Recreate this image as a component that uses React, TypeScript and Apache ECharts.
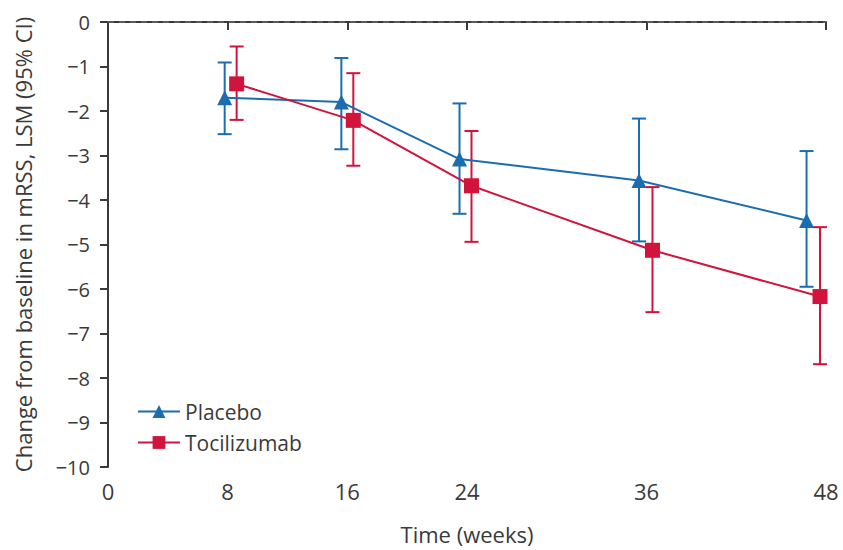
import React, { useEffect, useRef } from "react";
import * as echarts from "echarts";

const tickWeeks = [0, 8, 16, 24, 36, 48];
const placeboX = [7.8, 15.6, 23.5, 35.5, 46.7];
const placeboY = [-1.7, -1.8, -3.08, -3.56, -4.46];
const placeboLow = [-2.52, -2.86, -4.31, -4.93, -5.95];
const placeboHigh = [-0.91, -0.81, -1.83, -2.17, -2.9];
const tociX = [8.6, 16.4, 24.3, 36.4, 47.6];
const tociY = [-1.39, -2.21, -3.68, -5.13, -6.17];
const tociLow = [-2.2, -3.23, -4.94, -6.52, -7.69];
const tociHigh = [-0.55, -1.15, -2.45, -3.71, -4.61];

const BLUE = "#1c6db0";
const RED = "#d0143c";
const FONT = "'Open Sans', 'Noto Sans', sans-serif";
const TXT = "#3a3a3a";

function errorSeries(name: string, xs: number[], lows: number[], highs: number[], color: string) {
  return {
    type: "custom",
    name: name + "-ci",
    silent: true,
    z: 1,
    data: xs.map((x, i) => [x, lows[i], highs[i]]),
    encode: { x: 0, y: [1, 2] },
    renderItem: (params: any, api: any) => {
      const x = api.value(0);
      const lo = api.coord([x, api.value(1)]);
      const hi = api.coord([x, api.value(2)]);
      const half = 7;
      const style = { stroke: color, lineWidth: 2 };
      return {
        type: "group",
        children: [
          { type: "line", shape: { x1: lo[0], y1: lo[1], x2: hi[0], y2: hi[1] }, style },
          { type: "line", shape: { x1: lo[0] - half, y1: lo[1], x2: lo[0] + half, y2: lo[1] }, style },
          { type: "line", shape: { x1: hi[0] - half, y1: hi[1], x2: hi[0] + half, y2: hi[1] }, style },
        ],
      };
    },
  };
}

export default function App() {
  const ref = useRef<HTMLDivElement>(null);
  useEffect(() => {
    const chart = echarts.init(ref.current!, null, { renderer: "svg" });
    chart.setOption({
      animation: false,
      textStyle: { fontFamily: FONT },
      grid: { left: 108, right: 17, top: 22, bottom: 80 },
      legend: {
        orient: "vertical",
        left: 132,
        top: 396,
        itemWidth: 42,
        itemHeight: 16,
        itemGap: 10,
        textStyle: { fontSize: 21, color: TXT, fontFamily: FONT },
        data: ["Placebo", "Tocilizumab"],
      },
      xAxis: {
        type: "value",
        min: 0,
        max: 48,
        name: "Time (weeks)",
        nameLocation: "middle",
        nameGap: 56,
        nameTextStyle: { fontSize: 22, color: TXT, fontFamily: FONT },
        splitLine: { show: false },
        axisLine: { lineStyle: { color: "#3a3a3a", width: 2 } },
        axisTick: { length: 8, lineStyle: { color: "#3a3a3a", width: 2 }, customValues: tickWeeks },
        axisLabel: { fontSize: 22, color: TXT, margin: 13, customValues: tickWeeks, fontFamily: FONT },
      },
      yAxis: {
        type: "value",
        min: -10,
        max: 0,
        interval: 1,
        name: "Change from baseline in mRSS, LSM (95% CI)",
        nameLocation: "middle",
        nameRotate: 90,
        nameGap: 74,
        nameTextStyle: { fontSize: 22, color: TXT, fontFamily: FONT },
        splitLine: { show: false },
        axisLine: { show: true, lineStyle: { color: "#3a3a3a", width: 2 } },
        axisTick: { show: true, length: 8, lineStyle: { color: "#3a3a3a", width: 2 } },
        axisLabel: {
          fontSize: 20,
          color: TXT,
          margin: 18,
          fontFamily: FONT,
          formatter: (v: number) => (v < 0 ? "\u2212" + Math.abs(v) : String(v)),
        },
      },
      series: [
        errorSeries("Placebo", placeboX, placeboLow, placeboHigh, BLUE),
        errorSeries("Tocilizumab", tociX, tociLow, tociHigh, RED),
        {
          type: "line",
          name: "Placebo",
          z: 3,
          data: placeboX.map((x, i) => [x, placeboY[i]]),
          symbol: "triangle",
          symbolSize: 15,
          itemStyle: { color: BLUE },
          lineStyle: { color: BLUE, width: 2 },
          markLine: {
            silent: true,
            symbol: "none",
            label: { show: false },
            lineStyle: { color: "#666", type: [6, 5], width: 1.5 },
            data: [{ yAxis: 0 }],
          },
        },
        {
          type: "line",
          name: "Tocilizumab",
          z: 4,
          data: tociX.map((x, i) => [x, tociY[i]]),
          symbol: "rect",
          symbolSize: 15,
          itemStyle: { color: RED },
          lineStyle: { color: RED, width: 2 },
        },
      ],
    });
    return () => chart.dispose();
  }, []);
  return <div ref={ref} style={{ width: 843, height: 550, position: "absolute", left: 0, top: 0, background: "#fff" }} />;
}
